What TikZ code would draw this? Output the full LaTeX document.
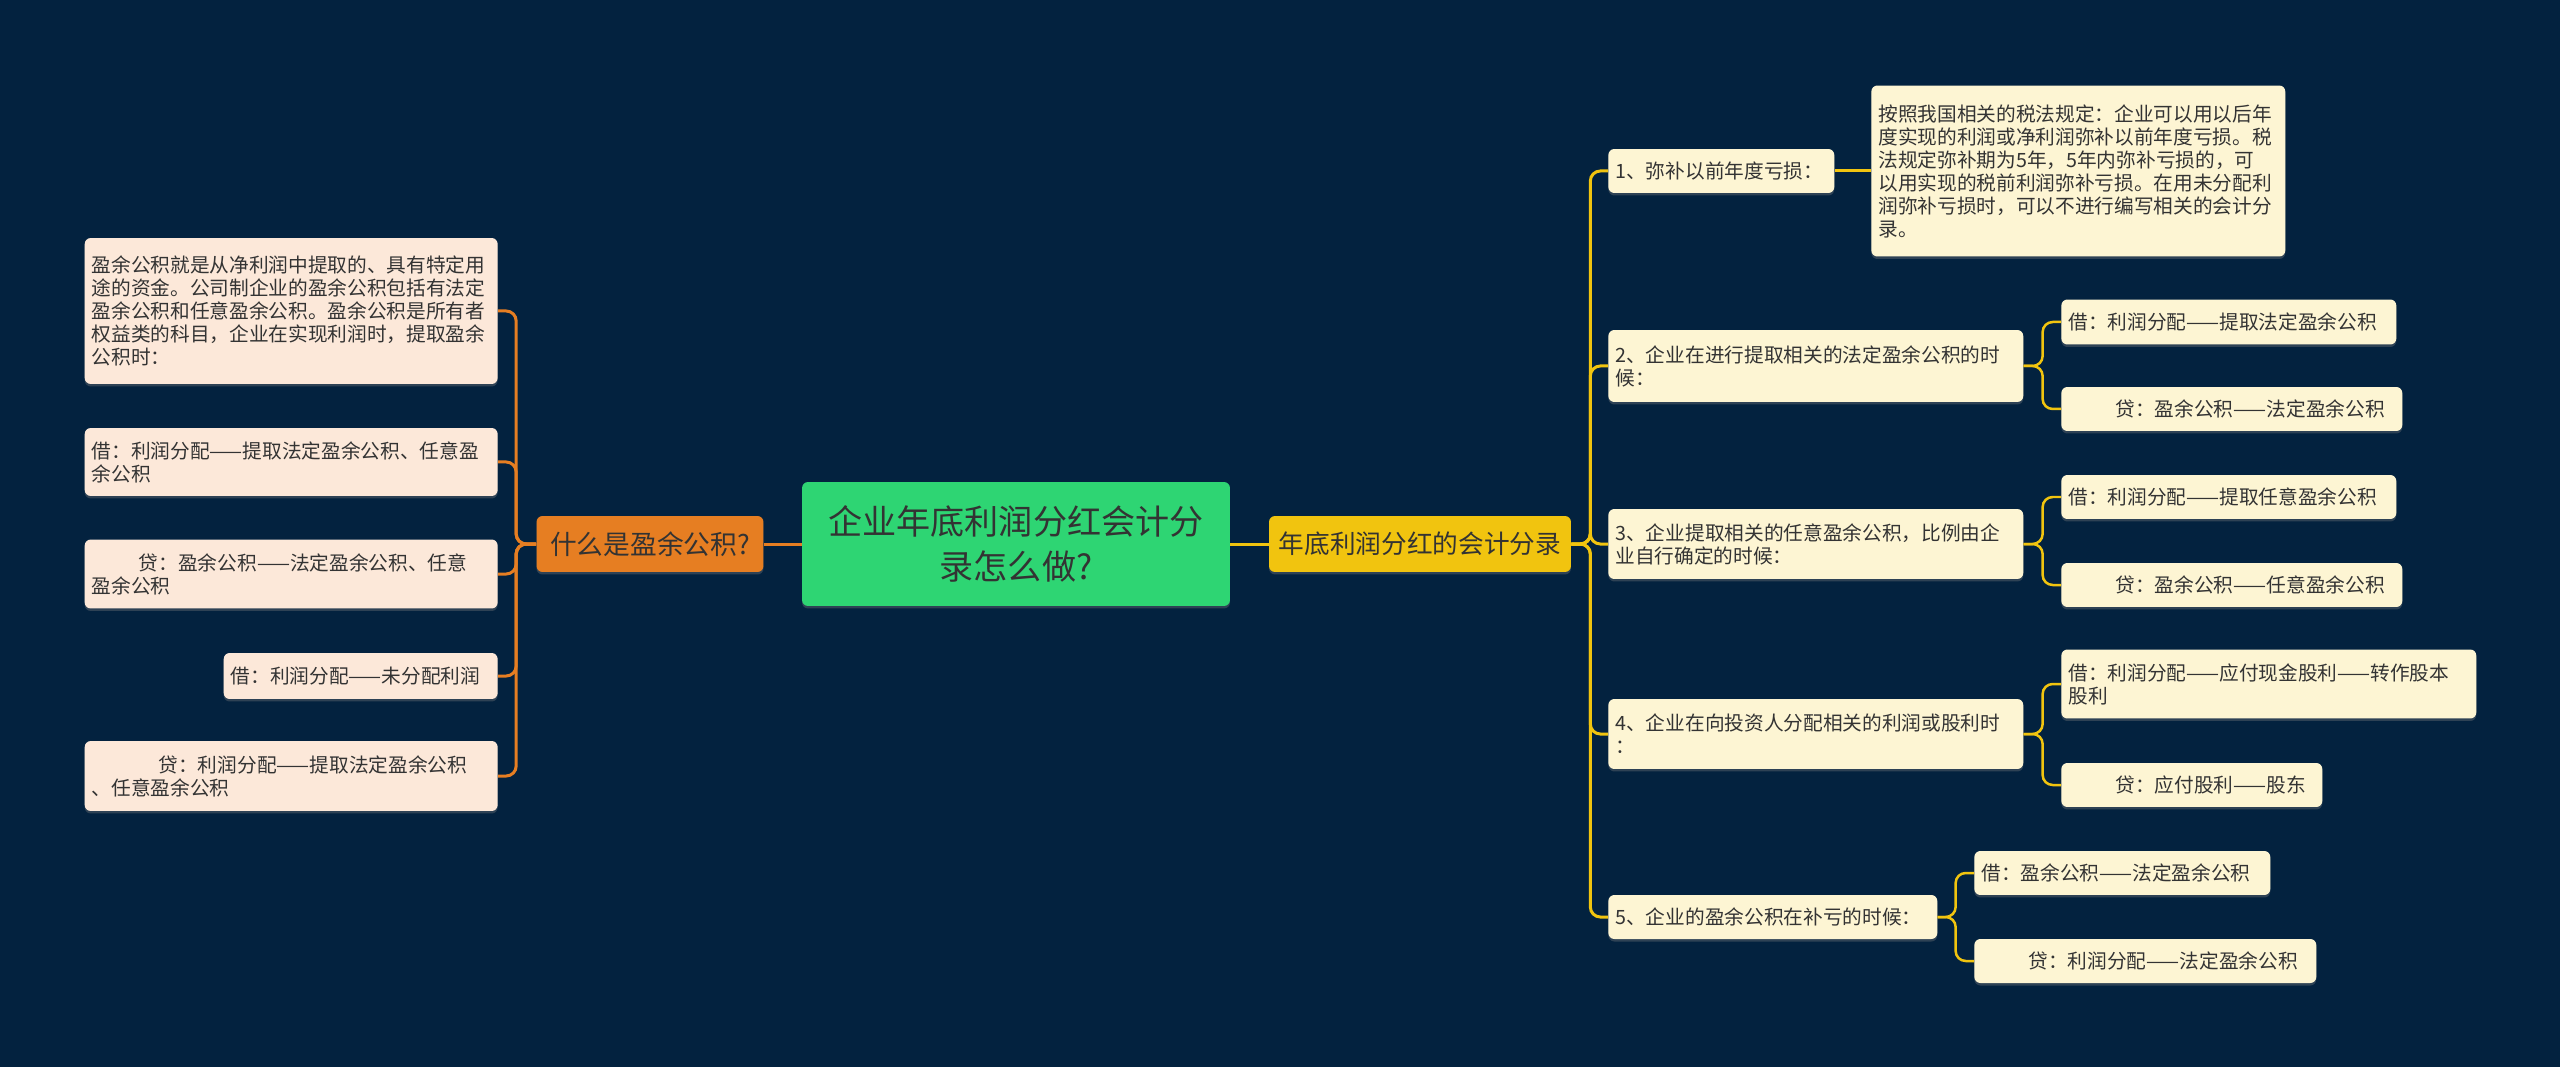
\documentclass[tikz,border=0pt]{standalone}
\usepackage{fontspec}
\newfontfamily\cjk{Noto Sans CJK SC}
\usepackage{tikz}
\usepackage{xcolor}
\usetikzlibrary{shadows}
\usetikzlibrary{calc}
\usetikzlibrary{positioning}

\definecolor{navy}{HTML}{03223F}
\definecolor{rootgreen}{HTML}{2ED573}
\definecolor{orangebr}{HTML}{E67E22}
\definecolor{yellowbr}{HTML}{F1C40F}
\definecolor{peach}{HTML}{FCE8D9}
\definecolor{cream}{HTML}{FDF5D3}
\definecolor{ink}{HTML}{333333}

\tikzset{
  box/.style={rounded corners=0.12cm, inner xsep=0.14cm, inner ysep=0cm, text=ink,
    font=\cjk\fontsize{11.2pt}{13.1pt}\selectfont, align=left,
    drop shadow={shadow xshift=0cm, shadow yshift=-0.05cm, opacity=0.35}},
  lbox/.style={box, fill=peach, anchor=east},
  rbox/.style={box, fill=cream, anchor=west},
  olink/.style={draw=orangebr, line width=0.06cm, rounded corners=0.2cm},
  ylink/.style={draw=yellowbr, line width=0.06cm, rounded corners=0.2cm},
}

\begin{document}
\begin{tikzpicture}[x=0.02cm,y=-0.02cm]
% Background
\fill[navy] (0,0) rectangle (2560,1067);
\useasboundingbox (0,0) rectangle (2560,1067);

% Root title (node)
\node[box, fill=rootgreen, align=center, text width=8.28cm, minimum height=2.48cm,
  font=\cjk\fontsize{19.4pt}{25.6pt}\selectfont] (root) at (1016,544)
  {企业年底利润分红会计分\\录怎么做?};
% Main branches (node)
\node[box, fill=orangebr, align=center, text width=4.26cm, minimum height=1.12cm,
  font=\cjk\fontsize{15.2pt}{18pt}\selectfont] (what) at (650,544) {什么是盈余公积?};
\node[box, fill=yellowbr, align=center, text width=5.76cm, minimum height=1.12cm,
  font=\cjk\fontsize{14.6pt}{18pt}\selectfont] (acct) at (1420,544) {年底利润分红的会计分录};

% Left leaves (node)
\node[lbox, text width=7.98cm, minimum height=2.92cm] (l1) at (498,311)
  {盈余公积就是从净利润中提取的、具有特定用\\途的资金。公司制企业的盈余公积包括有法定\\盈余公积和任意盈余公积。盈余公积是所有者\\权益类的科目，企业在实现利润时，提取盈余\\公积时：};
\node[lbox, text width=7.98cm, minimum height=1.36cm] (l2) at (498,462)
  {借：利润分配——提取法定盈余公积、任意盈\\余公积};
\node[lbox, text width=7.98cm, minimum height=1.38cm] (l3) at (498,574)
  {\hspace*{2.4em}贷：盈余公积——法定盈余公积、任意\\盈余公积};
\node[lbox, text width=5.20cm, minimum height=0.92cm] (l4) at (498,676)
  {借：利润分配——未分配利润};
\node[lbox, text width=7.98cm, minimum height=1.40cm] (l5) at (498,776)
  {\hspace*{3.4em}贷：利润分配——提取法定盈余公积\\、任意盈余公积};

% Right branches (node)
\node[rbox, text width=4.24cm, minimum height=0.88cm] (r1) at (1608,171)
  {1、弥补以前年度亏损：};
\node[rbox, text width=8.02cm, minimum height=1.44cm] (r2) at (1608,366)
  {2、企业在进行提取相关的法定盈余公积的时\\候：};
\node[rbox, text width=8.02cm, minimum height=1.40cm] (r3) at (1608,544)
  {3、企业提取相关的任意盈余公积，比例由企\\业自行确定的时候：};
\node[rbox, text width=8.02cm, minimum height=1.40cm] (r4) at (1608,734)
  {4、企业在向投资人分配相关的利润或股利时\\：};
\node[rbox, text width=6.30cm, minimum height=0.88cm] (r5) at (1608,917)
  {5、企业的盈余公积在补亏的时候：};

% Right leaves (node)
\node[rbox, text width=8.00cm, minimum height=3.42cm] (r1a) at (1871,171)
  {按照我国相关的税法规定：企业可以用以后年\\度实现的利润或净利润弥补以前年度亏损。税\\法规定弥补期为5年，5年内弥补亏损的，可\\以用实现的税前利润弥补亏损。在用未分配利\\润弥补亏损时，可以不进行编写相关的会计分\\录。};
\node[rbox, text width=6.42cm, minimum height=0.90cm] (r2a) at (2061,322)
  {借：利润分配——提取法定盈余公积};
\node[rbox, text width=6.54cm, minimum height=0.88cm] (r2b) at (2061,409)
  {\hspace*{2.4em}贷：盈余公积——法定盈余公积};
\node[rbox, text width=6.42cm, minimum height=0.88cm] (r3a) at (2061,497)
  {借：利润分配——提取任意盈余公积};
\node[rbox, text width=6.54cm, minimum height=0.88cm] (r3b) at (2061,585)
  {\hspace*{2.4em}贷：盈余公积——任意盈余公积};
\node[rbox, text width=8.02cm, minimum height=1.38cm] (r4a) at (2061,684)
  {借：利润分配——应付现金股利——转作股本\\股利};
\node[rbox, text width=4.94cm, minimum height=0.88cm] (r4b) at (2061,785)
  {\hspace*{2.4em}贷：应付股利——股东};
\node[rbox, text width=5.64cm, minimum height=0.88cm] (r5a) at (1974,873)
  {借：盈余公积——法定盈余公积};
\node[rbox, text width=6.56cm, minimum height=0.88cm] (r5b) at (1974,961)
  {\hspace*{2.4em}贷：利润分配——法定盈余公积};

% Links from the root
\draw[olink] (root.west) -- (what.east);
\draw[ylink] (root.east) -- (acct.west);
\foreach \n in {l1,l2,l3,l4,l5}
  \draw[olink] (what.west) -- ++(-20,0) |- (\n.east);
\foreach \n in {r1,r2,r3,r4,r5}
  \draw[ylink] (acct.east) -- ++(19,0) |- (\n.west);
\draw[ylink] (r1.east) -- (r1a.west);
\foreach \p/\n in {r2/r2a,r2/r2b,r3/r3a,r3/r3b,r4/r4a,r4/r4b}
  \draw[ylink, line width=0.05cm] (\p.east) -- ++(19,0) |- (\n.west);
\foreach \n in {r5a,r5b}
  \draw[ylink, line width=0.05cm] (r5.east) -- ++(18,0) |- (\n.west);
\end{tikzpicture}
\end{document}
